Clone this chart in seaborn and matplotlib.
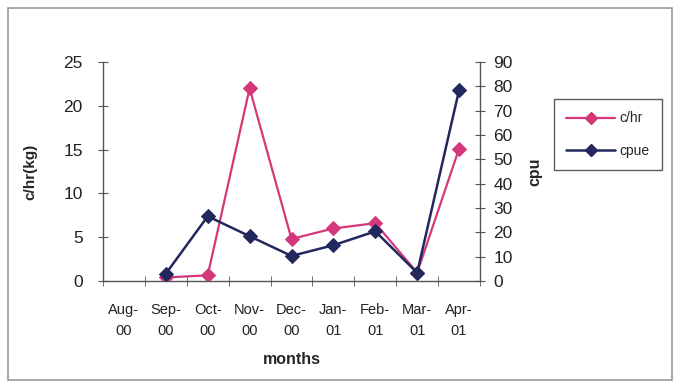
import seaborn as sns
import pandas as pd
import numpy as np
import matplotlib.pyplot as plt
from matplotlib.patches import Rectangle
from matplotlib.lines import Line2D

months = ['Aug-\n00', 'Sep-\n00', 'Oct-\n00', 'Nov-\n00', 'Dec-\n00',
          'Jan-\n01', 'Feb-\n01', 'Mar-\n01', 'Apr-\n01']
c_hr = [np.nan, 0.4, 0.65, 22.0, 4.8, 6.0, 6.6, 0.95, 15.1]
cpue = [np.nan, 3.0, 26.6, 18.4, 10.3, 14.7, 20.4, 3.4, 78.4]

pink = '#d4387a'
navy = '#22285e'

sns.set_style('white')
plt.rcParams['font.family'] = ['Liberation Sans', 'DejaVu Sans']

data = pd.DataFrame({'pos': np.arange(len(months)), 'c/hr': c_hr, 'cpue': cpue})

fig = plt.figure(figsize=(6.8, 3.86), dpi=100)
fig.patches.append(Rectangle((8/680, 1-380/386), 664/680, 372/386, transform=fig.transFigure,
                             fill=False, edgecolor='#999999', linewidth=1.2))
ax = fig.add_axes([103/680, 1-281/386, 377/680, 219/386])
ax2 = ax.twinx()

sns.lineplot(data=data, x='pos', y='c/hr', ax=ax, color=pink, marker='D', markersize=7,
             markeredgecolor=pink, linewidth=1.6, sort=False)
sns.lineplot(data=data, x='pos', y='cpue', ax=ax2, color=navy, marker='D', markersize=7,
             markeredgecolor=navy, linewidth=1.8, sort=False)

ax.set_xlim(-0.5, len(months) - 0.5)
ax.set_ylim(0, 25)
ax2.set_ylim(0, 90)
ax.set_yticks(range(0, 26, 5))
ax2.set_yticks(range(0, 91, 10))
ax.set_xticks(np.arange(len(months)))
ax.set_xticklabels(months, fontsize=10.5, linespacing=1.65, color='#222222')
ax.set_xticks(np.arange(len(months) + 1) - 0.5, minor=True)
ax.tick_params(axis='x', which='major', length=0, pad=16)
ax.tick_params(axis='x', which='minor', length=7, direction='inout', color='#555555', bottom=True)
ax.tick_params(axis='y', length=7, direction='inout', color='#555555', labelsize=12.5,
               labelcolor='#222222', left=True, pad=11)
ax2.tick_params(axis='y', length=7, direction='inout', color='#555555', labelsize=12.5,
                labelcolor='#222222', right=True, pad=6)

for a in (ax, ax2):
    for s in a.spines.values():
        s.set_visible(False)
ax.spines['left'].set_visible(True)
ax.spines['bottom'].set_visible(True)
ax2.spines['right'].set_visible(True)
for s in (ax.spines['left'], ax.spines['bottom'], ax2.spines['right']):
    s.set_color('#555555')
    s.set_linewidth(1.0)

ax.set_xlabel('months', fontsize=11.5, fontweight='bold')
ax.set_ylabel('c/hr(kg)', fontsize=11, fontweight='bold')
ax2.set_ylabel('cpu', fontsize=11.5, fontweight='bold')
ax.yaxis.set_label_coords(-0.175, 0.5)
ax2.yaxis.set_label_coords(1.125, 0.5)
ax.xaxis.set_label_coords(0.5, -0.325)

handles = [Line2D([], [], color=pink, marker='D', markersize=6, linewidth=1.6),
           Line2D([], [], color=navy, marker='D', markersize=6, linewidth=1.8)]
leg = fig.legend(handles, ['c/hr', 'cpue'], loc='upper left', bbox_to_anchor=(547/680, 1-92/386),
                 fontsize=10, frameon=True, fancybox=False, handlelength=3.5,
                 borderpad=0.9, labelspacing=1.3, handletextpad=0.3)
leg.get_frame().set_edgecolor('#333333')
leg.get_frame().set_linewidth(1.0)

fig.savefig('out.png', dpi=100)
